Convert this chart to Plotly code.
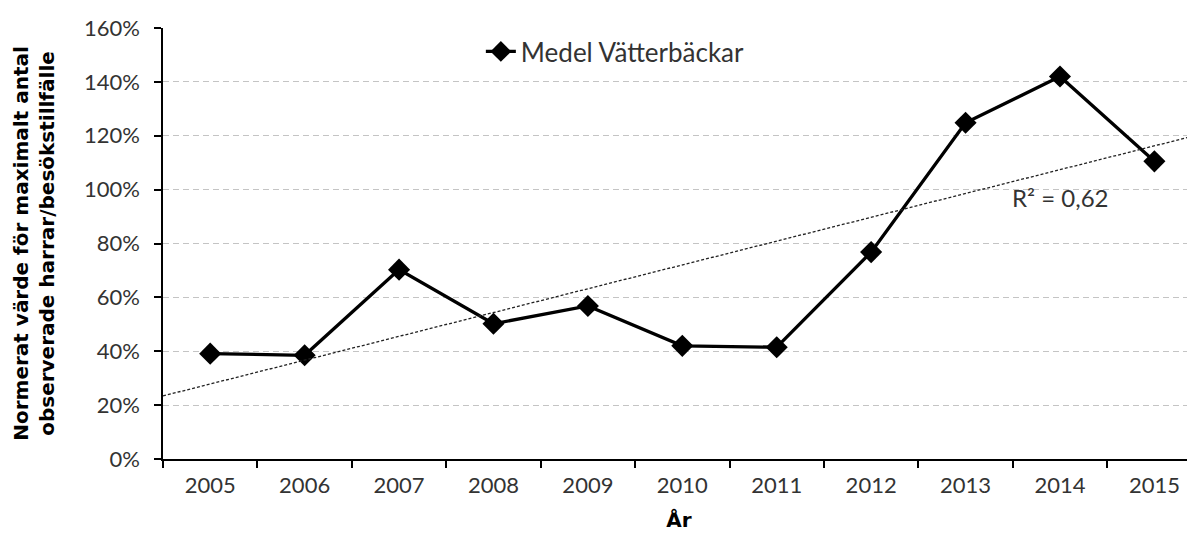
import numpy as np
import plotly.graph_objects as go

years = ["2005", "2006", "2007", "2008", "2009", "2010", "2011", "2012", "2013", "2014", "2015"]
medel_vatterbackar = [0.391, 0.385, 0.703, 0.502, 0.568, 0.42, 0.415, 0.768, 1.248, 1.42, 1.105]
series_name = "Medel Vätterbäckar"
r2_label = "R² = 0,62"
y_title = "Normerat värde för maximalt antal<br>observerade harrar/besökstillfälle"
x_title = "År"

FONT = "Lato, 'DejaVu Sans', sans-serif"
BOLD = "'DejaVu Sans', sans-serif"

# linear trend from the data (Excel-style trendline)
xi = np.arange(len(years))
slope, intercept = np.polyfit(xi, medel_vatterbackar, 1)
x_lo, x_hi = -0.5, 10.43
trend_x = [x_lo, x_hi]
trend_y = [intercept + slope * x_lo, intercept + slope * x_hi]

fig = go.Figure()
fig.add_trace(go.Scatter(
    x=trend_x, y=trend_y, xaxis="x2", mode="lines",
    line=dict(color="#222222", width=1.3, dash="3px,2px"),
    showlegend=False, hoverinfo="skip"))
fig.add_trace(go.Scatter(
    x=years, y=medel_vatterbackar, mode="lines+markers", name=series_name,
    line=dict(color="black", width=3.3),
    marker=dict(symbol="diamond", size=17, color="black")))

fig.add_annotation(x=9.0, y=0.97, xref="x2", yref="y", text=r2_label, showarrow=False,
                   font=dict(family=FONT, size=24, color="#333333"))

fig.update_layout(
    width=1187, height=527,
    margin=dict(l=155, r=0, t=20, b=76),
    paper_bgcolor="white", plot_bgcolor="white",
    font=dict(family=FONT, size=22, color="#333333"),
    showlegend=True,
    legend=dict(x=0.308, y=1.0, xanchor="left", yanchor="top",
                bgcolor="rgba(0,0,0,0)", font=dict(size=26, color="#333333")),
    xaxis=dict(type="category", range=[x_lo, x_hi], tickson="boundaries",
               ticks="outside", ticklen=7, tickcolor="black", tickwidth=1.5,
               showline=True, linecolor="black", linewidth=1.5, showgrid=False,
               ticklabelstandoff=6,
               tickfont=dict(size=22, color="#333333"),
               title=dict(text="<b>" + x_title + "</b>", standoff=16,
                          font=dict(family=BOLD, size=20, color="black"))),
    xaxis2=dict(overlaying="x", range=[x_lo, x_hi], visible=False),
    yaxis=dict(range=[0, 1.6], dtick=0.2, tickformat=".0%",
               ticks="outside", ticklen=7, tickcolor="black", tickwidth=1.5,
               showline=True, linecolor="black", linewidth=1.5,
               showgrid=True, gridcolor="#c4c4c4", griddash="6px,4px", gridwidth=1,
               zeroline=False,
               ticklabelstandoff=10,
               tickfont=dict(size=22, color="#333333"),
               title=dict(text="<b>" + y_title + "</b>", standoff=24,
                          font=dict(family=BOLD, size=20, color="black"))),
)

fig.write_html("out.html")
